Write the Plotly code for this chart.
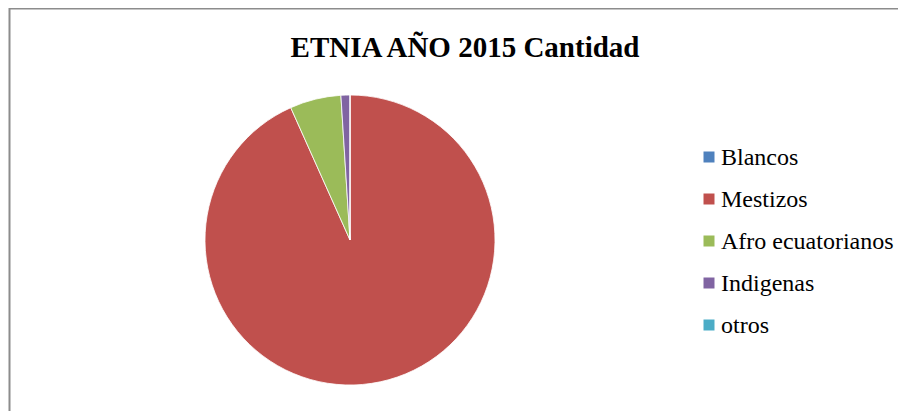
import plotly.graph_objects as go

# data
labels = ["Blancos", "Mestizos", "Afro ecuatorianos", "Indigenas", "otros"]
values = [0, 933, 57, 10, 0]
colors = ["#4F81BD", "#C0504D", "#9BBB59", "#8064A2", "#4BACC6"]

W, H = 906, 411
OFF = 8  # page body margin shifts the figure
SERIF = "Times New Roman, Liberation Serif, serif"


def px(x):
    return (x - OFF) / W


def py(y):
    return 1 - (y - OFF) / H


fig = go.Figure()
fig.add_trace(go.Pie(
    labels=labels,
    values=values,
    marker=dict(colors=colors, line=dict(color="white", width=0.8)),
    sort=False,
    direction="clockwise",
    rotation=0,
    textinfo="none",
    hoverinfo="label+value+percent",
    showlegend=False,
    domain=dict(x=[px(205), px(495)], y=[py(385), py(95)]),
))

# frame around the chart area
shapes = [dict(type="rect", xref="paper", yref="paper",
               x0=px(9.5), y0=-0.1, x1=1.1, y1=py(8.5),
               line=dict(color="#8c8c8c", width=2), fillcolor="rgba(0,0,0,0)")]
annotations = []

# legend drawn by hand so the spacing matches
y_first, step = 157, 42
for i, (lab, col) in enumerate(zip(labels, colors)):
    yc = y_first + i * step
    shapes.append(dict(type="rect", xref="paper", yref="paper",
                       x0=px(703.5), x1=px(714.5),
                       y0=py(yc + 5.5), y1=py(yc - 5.5),
                       line=dict(width=0), fillcolor=col))
    annotations.append(dict(text=lab, xref="paper", yref="paper",
                            x=px(719), y=py(yc), xanchor="left", yanchor="middle",
                            showarrow=False,
                            font=dict(family=SERIF, size=24, color="black")))

fig.update_layout(
    width=W, height=H,
    margin=dict(l=0, r=0, t=0, b=0),
    paper_bgcolor="white",
    plot_bgcolor="white",
    title=dict(text="<b>ETNIA AÑO 2015 Cantidad</b>", x=px(465), xanchor="center",
               y=py(47), yanchor="middle",
               font=dict(family=SERIF, size=29, color="black")),
    shapes=shapes,
    annotations=annotations,
)

fig.write_html("out.html")
